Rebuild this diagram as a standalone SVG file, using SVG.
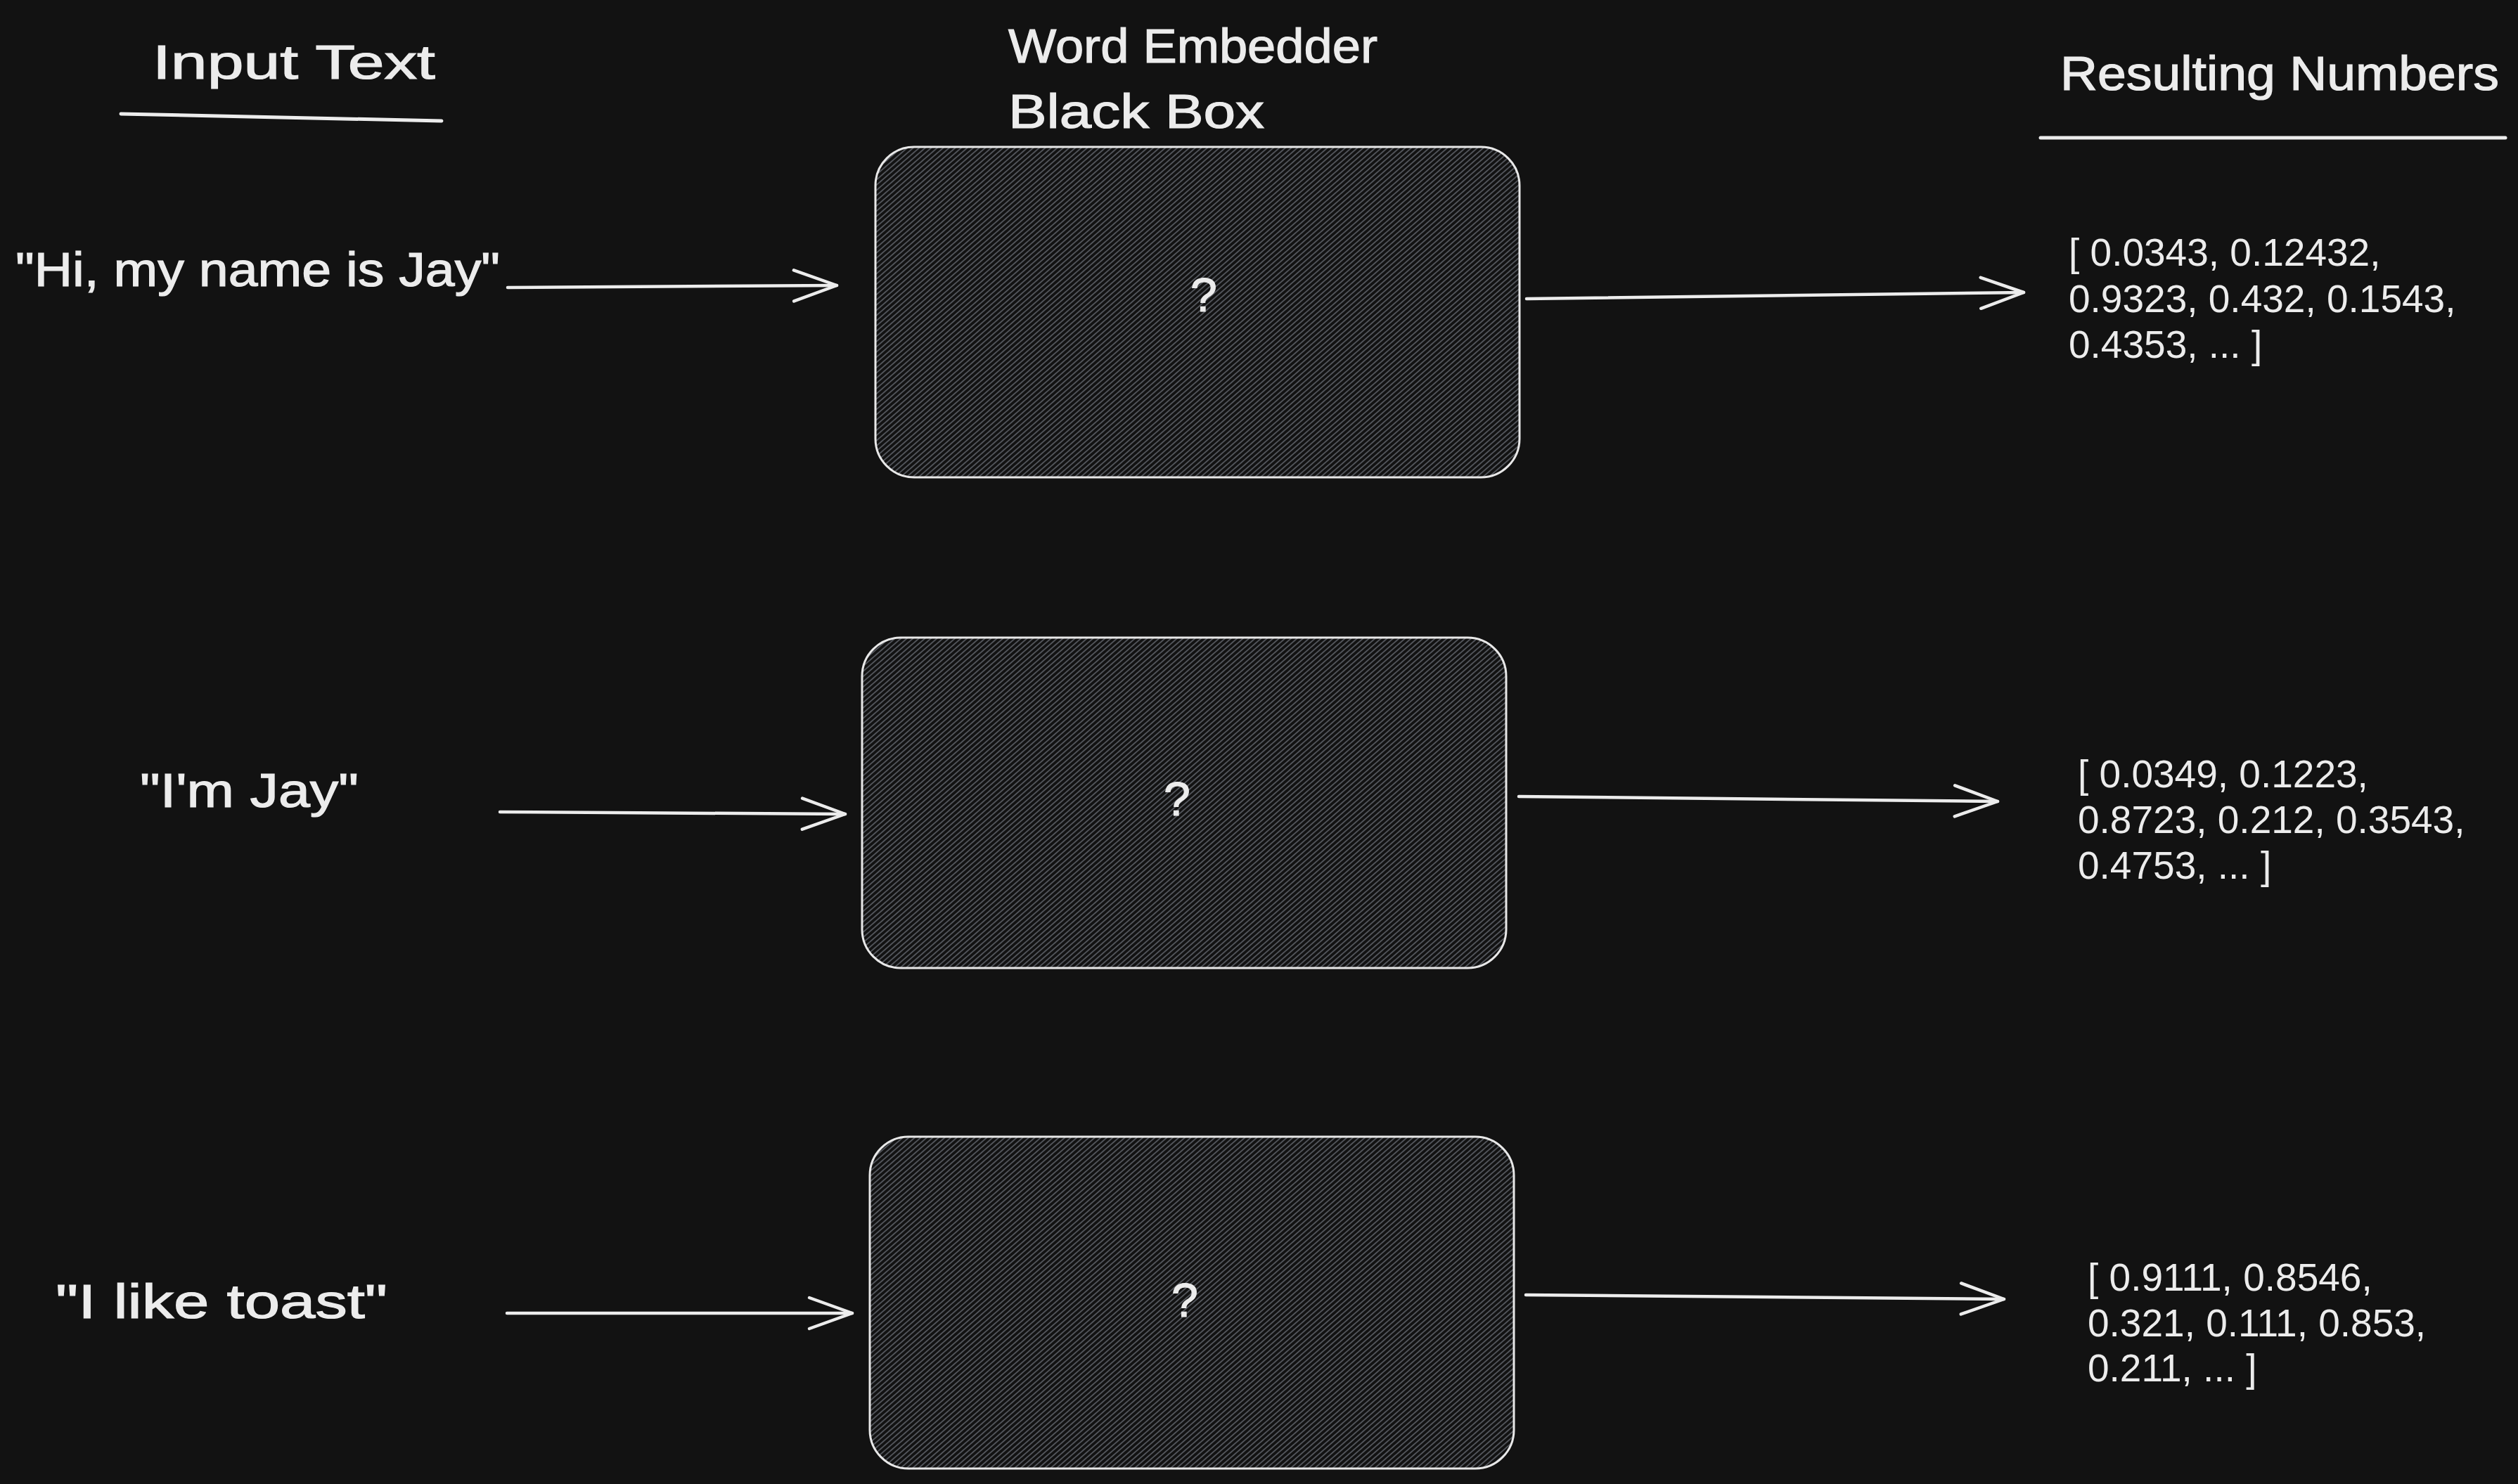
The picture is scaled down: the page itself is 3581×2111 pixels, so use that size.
<svg xmlns="http://www.w3.org/2000/svg" width="3581" height="2111" viewBox="0 0 3581 2111">
  <style>
    .hand { font-family: "Liberation Sans", "DejaVu Sans", sans-serif; font-size: 68px; fill: #ececec; stroke: #ececec; stroke-width: 1.2; }
    .q { font-family: "Liberation Sans", "DejaVu Sans", sans-serif; font-size: 68px; fill: #ececec; stroke: #ececec; stroke-width: 1.2; text-anchor: middle; }
    .num { font-family: "Liberation Sans", Arial, sans-serif; font-size: 55px; fill: #ececec; }
    .box { fill: url(#hatch); stroke: #e8e8e8; stroke-width: 3; }
    .boxbg { fill: #121212; stroke: none; }
    .conn { fill: none; stroke: #ececec; stroke-width: 4.5; stroke-linecap: round; }
    .uline { fill: none; stroke: #ececec; stroke-width: 5; stroke-linecap: round; }
  </style>
  <defs>
    <pattern id="hatch" patternUnits="userSpaceOnUse" width="40" height="5.6" patternTransform="rotate(-41)">
      <line x1="0" y1="2.8" x2="40" y2="2.8" stroke="#676b72" stroke-width="1.4"/>
    </pattern>
    <marker id="ah" markerUnits="userSpaceOnUse" viewBox="0 0 70 50" markerWidth="70" markerHeight="50" refX="64" refY="25" orient="auto">
      <path d="M3,3 L64,25 L3,47" fill="none" stroke="#ececec" stroke-width="4.5" stroke-linecap="round" stroke-linejoin="round"/>
    </marker>
  </defs>
  <rect width="3581" height="2111" fill="#121212"/>

  <g id="title-input">
    <text class="hand" x="217" y="112" textLength="402" lengthAdjust="spacingAndGlyphs">Input Text</text>
    <path class="uline" d="M172,162 L628,172"/>
  </g>
  <g id="title-embedder">
    <text class="hand" x="1434" y="89" textLength="525" lengthAdjust="spacingAndGlyphs">Word Embedder</text>
    <text class="hand" x="1434" y="182" textLength="364" lengthAdjust="spacingAndGlyphs">Black Box</text>
  </g>
  <g id="title-result">
    <text class="hand" x="2930" y="128" textLength="624" lengthAdjust="spacingAndGlyphs">Resulting Numbers</text>
    <path class="uline" d="M2902,196 L3563,196"/>
  </g>

  <g id="input-1">
    <text class="hand" x="22" y="407" textLength="689" lengthAdjust="spacingAndGlyphs">"Hi, my name is Jay"</text>
  </g>
  <g id="input-2">
    <text class="hand" x="199" y="1148" textLength="311" lengthAdjust="spacingAndGlyphs">"I'm Jay"</text>
  </g>
  <g id="input-3">
    <text class="hand" x="79" y="1875" textLength="472" lengthAdjust="spacingAndGlyphs">"I like toast"</text>
  </g>

  <g id="box-1">
    <rect class="boxbg" x="1245" y="209" width="916" height="470" rx="55"/>
    <rect class="box" x="1245" y="209" width="916" height="470" rx="55"/>
    <text class="q" x="1712" y="443">?</text>
  </g>
  <g id="box-2">
    <rect class="boxbg" x="1226" y="907" width="916" height="470" rx="55"/>
    <rect class="box" x="1226" y="907" width="916" height="470" rx="55"/>
    <text class="q" x="1674" y="1160">?</text>
  </g>
  <g id="box-3">
    <rect class="boxbg" x="1237" y="1617" width="916" height="472" rx="55"/>
    <rect class="box" x="1237" y="1617" width="916" height="472" rx="55"/>
    <text class="q" x="1685" y="1873">?</text>
  </g>

  <g id="output-1">
    <text class="num" x="2942" y="378">[ 0.0343, 0.12432,</text>
    <text class="num" x="2942" y="443.5">0.9323, 0.432, 0.1543,</text>
    <text class="num" x="2942" y="509">0.4353, ... ]</text>
  </g>
  <g id="output-2">
    <text class="num" x="2955" y="1120">[ 0.0349, 0.1223,</text>
    <text class="num" x="2955" y="1185">0.8723, 0.212, 0.3543,</text>
    <text class="num" x="2955" y="1250">0.4753, ... ]</text>
  </g>
  <g id="output-3">
    <text class="num" x="2969" y="1836">[ 0.9111, 0.8546,</text>
    <text class="num" x="2969" y="1901">0.321, 0.111, 0.853,</text>
    <text class="num" x="2969" y="1965">0.211, ... ]</text>
  </g>

  <g id="connectors">
    <path class="conn" d="M722,409 L1190,406" marker-end="url(#ah)"/>
    <path class="conn" d="M2171,425 L2878,416" marker-end="url(#ah)"/>
    <path class="conn" d="M711,1155 L1202,1158" marker-end="url(#ah)"/>
    <path class="conn" d="M2160,1133 L2841,1140" marker-end="url(#ah)"/>
    <path class="conn" d="M721,1868 L1212,1868" marker-end="url(#ah)"/>
    <path class="conn" d="M2170,1842 L2850,1848" marker-end="url(#ah)"/>
  </g>
</svg>
